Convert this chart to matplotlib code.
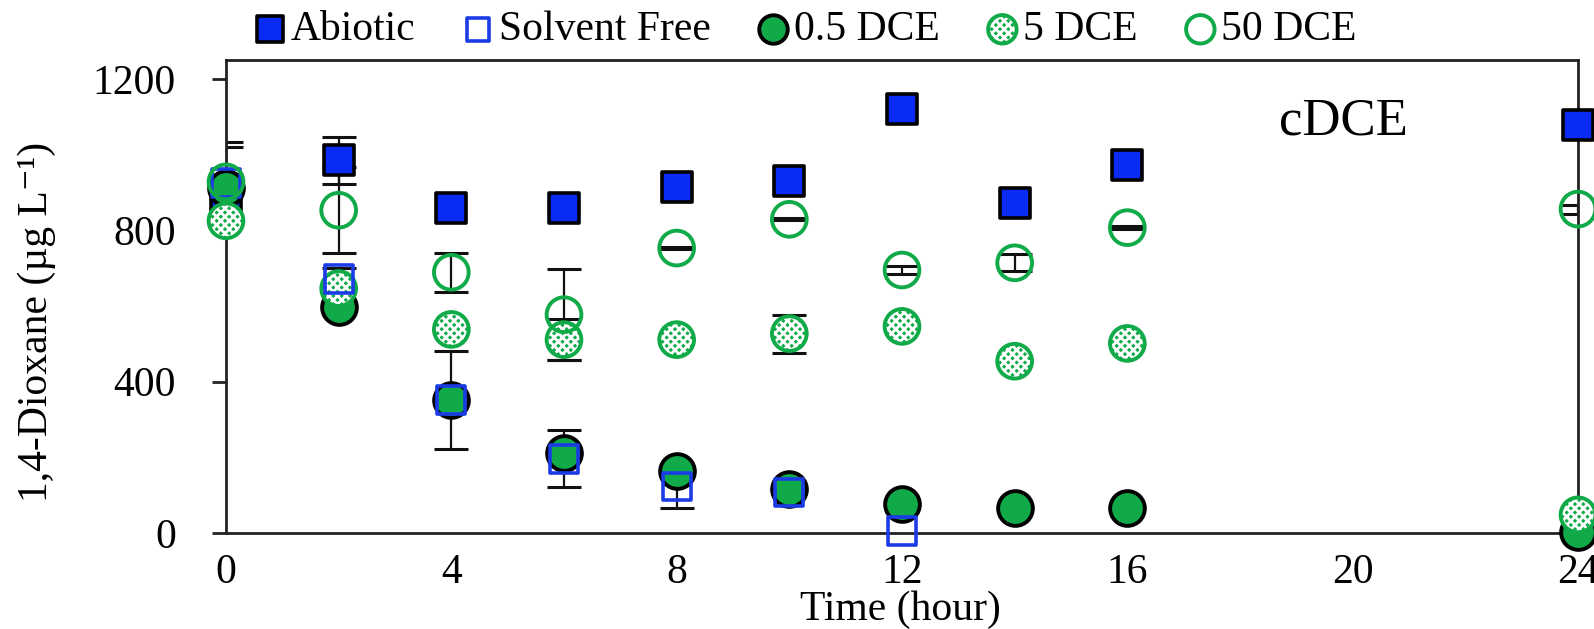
import numpy as np
import matplotlib
matplotlib.use("Agg")
import matplotlib.pyplot as plt
from matplotlib.legend_handler import HandlerTuple

plt.rcParams["font.family"] = ["Liberation Serif", "DejaVu Serif"]
plt.rcParams["hatch.linewidth"] = 2.0

# data (1,4-dioxane, ug/L)
TIME = [0, 2, 4, 6, 8, 10, 12, 14, 16, 24]
TIME_SF = [0, 2, 4, 6, 8, 10, 12]

ABIOTIC = [890, 985, 858, 860, 914, 931, 1120, 873, 973, 1078]
ABIOTIC_ERR = [0, 62, 0, 0, 0, 0, 0, 0, 0, 0]

SOLVENT_FREE = [925, 672, 352, 196, 123, 107, 5]
SOLVENT_FREE_ERR = [108, 27, 0, 75, 57, 0, 0]

DCE_05 = [912, 596, 352, 211, 164, 117, 77, 66, 66, 3]
DCE_05_ERR = [0, 0, 129, 0, 0, 0, 0, 0, 0, 0]

DCE_5 = [825, 646, 538, 511, 511, 527, 546, 454, 501, 48]
DCE_5_ERR = [0, 0, 0, 55, 0, 50, 0, 0, 0, 0]

DCE_50 = [928, 853, 689, 577, 753, 829, 695, 714, 807, 856]
DCE_50_ERR = [92, 114, 52, 120, 3, 3, 10, 22, 3, 12]

BLUE = "#0A2BF5"
BLUE_EDGE = "#1B3BE6"
GREEN = "#10AA48"
FS = 30


def err(ax, x, y, e):
    x, y, e = np.asarray(x), np.asarray(y), np.asarray(e)
    m = e > 0
    ax.errorbar(x[m], y[m], yerr=e[m], fmt="none", ecolor="#111111",
                elinewidth=1.6, capsize=12, capthick=2.2, zorder=2)


fig = plt.figure(figsize=(15.94, 6.29), dpi=100)
ax = fig.add_axes([226 / 1594, 1 - 533 / 629, 1352 / 1594, 473 / 629])

err(ax, TIME, ABIOTIC, ABIOTIC_ERR)
err(ax, TIME_SF, SOLVENT_FREE, SOLVENT_FREE_ERR)
err(ax, TIME, DCE_05, DCE_05_ERR)
err(ax, TIME, DCE_5, DCE_5_ERR)
err(ax, TIME, DCE_50, DCE_50_ERR)

h_ab = ax.scatter(TIME, ABIOTIC, s=22 ** 2, marker="s", facecolor=BLUE,
                  edgecolor="black", linewidth=2.6, zorder=3, clip_on=False)
h_05 = ax.scatter(TIME, DCE_05, s=25 ** 2, marker="o", facecolor=GREEN,
                  edgecolor="black", linewidth=2.8, zorder=4, clip_on=False)
h_5a = ax.scatter(TIME, DCE_5, s=25 ** 2, marker="o", facecolor=GREEN,
                  edgecolor="none", linewidth=0, zorder=5, clip_on=False)
h_5b = ax.scatter(TIME, DCE_5, s=25 ** 2, marker="o", facecolor="none",
                  edgecolor="white", linewidth=0, hatch="xxxx", zorder=5.1, clip_on=False)
h_5c = ax.scatter(TIME, DCE_5, s=25 ** 2, marker="o", facecolor="none",
                  edgecolor=GREEN, linewidth=2.8, zorder=5.2, clip_on=False)
h_sf = ax.scatter(TIME_SF, SOLVENT_FREE, s=20 ** 2, marker="s", facecolor="none",
                  edgecolor=BLUE_EDGE, linewidth=2.6, zorder=6, clip_on=False)
h_50 = ax.scatter(TIME, DCE_50, s=25 ** 2, marker="o", facecolor="none",
                  edgecolor=GREEN, linewidth=2.8, zorder=7, clip_on=False)

ax.set_xlim(0, 24)
ax.set_ylim(0, 1250)
ax.set_xticks([0, 4, 8, 12, 16, 20, 24])
ax.set_yticks([0, 400, 800, 1200])
ax.tick_params(axis="x", length=0, pad=15, labelsize=FS)
ax.tick_params(axis="y", length=10, width=2, pad=26, labelsize=FS, color="#222222")
for sp in ax.spines.values():
    sp.set_linewidth(2)
    sp.set_color("#222222")

ax.text(19.83, 1052, "cDCE", fontsize=38, ha="center", va="baseline")

fig.text(37 / 1594, 1 - 322 / 629, "1,4-Dioxane (µg L⁻¹)",
         rotation=90, ha="center", va="center", fontsize=FS)
fig.text(900 / 1594, 1 - 620 / 629, "Time (hour)", ha="center", va="baseline", fontsize=FS)

fig.legend([h_ab, h_sf, h_05, (h_5a, h_5b, h_5c), h_50],
           ["Abiotic", "Solvent Free", "0.5 DCE", "5 DCE", "50 DCE"],
           handler_map={tuple: HandlerTuple(ndivide=1, pad=0)},
           loc="center", bbox_to_anchor=(805 / 1594, 1 - 30 / 629), ncol=5,
           frameon=False, fontsize=FS, markerscale=0.82, handlelength=0.8,
           handletextpad=0.1, columnspacing=1.1, borderpad=0, borderaxespad=0)

fig.savefig("out.png", dpi=100)
